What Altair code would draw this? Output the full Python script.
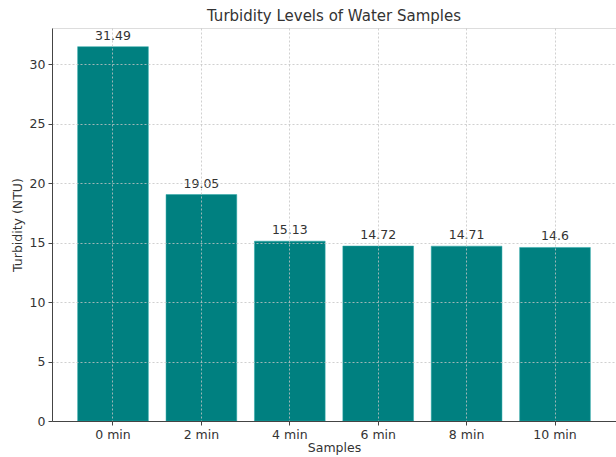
import altair as alt
import pandas as pd

samples = ["0 min", "2 min", "4 min", "6 min", "8 min", "10 min"]
turbidity = [31.49, 19.05, 15.13, 14.72, 14.71, 14.6]
labels = ["31.49", "19.05", "15.13", "14.72", "14.71", "14.6"]

df = pd.DataFrame({"Samples": samples, "Turbidity": turbidity, "Label": labels})

FONT = "DejaVu Sans"
TXT = "#333333"
GRID = "#c4c4c4"

x = alt.X("Samples:N", sort=samples, title="Samples",
          scale=alt.Scale(paddingInner=0.2, paddingOuter=0.29),
          axis=alt.Axis(labelAngle=0, grid=True, gridDash=[2, 2], gridColor=GRID,
                        gridOpacity=0.8, domainColor="#444", tickColor="#444", tickSize=4,
                        labelFont=FONT, labelFontSize=12.5, labelColor=TXT, labelPadding=3,
                        titleFont=FONT, titleFontSize=12.5, titleColor=TXT, titleFontWeight="normal",
                        titlePadding=1, zindex=1))
y = alt.Y("Turbidity:Q", title="Turbidity (NTU)",
          scale=alt.Scale(domain=[0, 33.06], nice=False, zero=True),
          axis=alt.Axis(values=[0, 5, 10, 15, 20, 25, 30], grid=True, gridDash=[2, 2],
                        gridColor=GRID, gridOpacity=0.8, domainColor="#444", tickColor="#444",
                        tickSize=4, labelFont=FONT, labelFontSize=12.5, labelColor=TXT, labelPadding=3,
                        titleFont=FONT, titleFontSize=12.5, titleColor=TXT, titleFontWeight="normal",
                        titlePadding=5, zindex=1))

bars = alt.Chart(df).mark_bar(color="#008080", stroke="#2aa8a8", strokeWidth=0.5).encode(x=x, y=y)
text = alt.Chart(df).mark_text(baseline="bottom", dy=-4, font=FONT, fontSize=12.5, color=TXT).encode(
    x=alt.X("Samples:N", sort=samples), y="Turbidity:Q", text="Label:N")

chart = (bars + text).properties(
    width=564, height=393,
    title=alt.TitleParams("Turbidity Levels of Water Samples", font=FONT, fontSize=15,
                          fontWeight="normal", color=TXT, offset=4, anchor="middle"),
    autosize=alt.AutoSizeParams(type="none"),
    padding={"left": 52, "top": 28, "right": 0, "bottom": 36},
).configure_view(stroke=None).configure(background="white")

chart.save("out.html", embed_options={"renderer": "svg", "actions": False})
